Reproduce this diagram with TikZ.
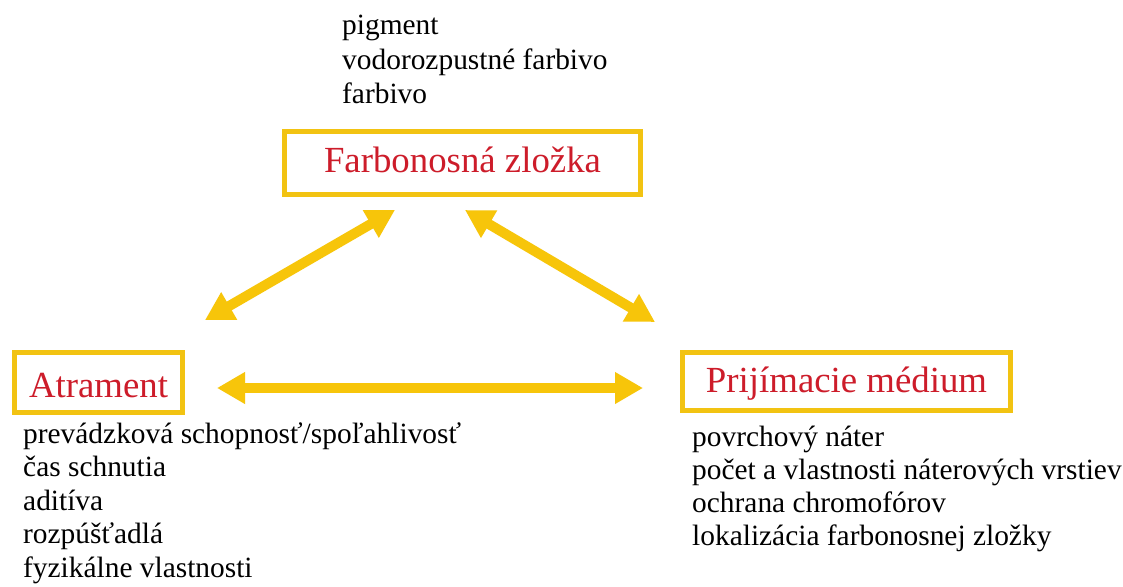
\documentclass[tikz,border=0pt]{standalone}
\usepackage{fontspec}
\IfFontExistsTF{LiberationSerif-Regular.ttf}
  {\setmainfont{LiberationSerif-Regular.ttf}[BoldFont=LiberationSerif-Bold.ttf]}
  {\IfFontExistsTF{Liberation Serif}{\setmainfont{Liberation Serif}}{}}
\usetikzlibrary{arrows.meta}
\definecolor{boxgold}{RGB}{242,195,18}
\definecolor{arrowgold}{RGB}{247,197,10}
\definecolor{titlered}{RGB}{205,28,42}
\begin{document}
\begin{tikzpicture}[x=1pt,y=-1pt,
  titlebox/.style={draw=boxgold, line width=5pt, fill=white, inner sep=0pt,
    text=titlered, font=\rmfamily\fontsize{36.8}{40}\selectfont, text depth=0pt},
  listline/.style={anchor=base west, inner sep=0pt, text=black,
    font=\rmfamily\fontsize{29.4}{34}\selectfont},
  biarrow/.style={draw=arrowgold, line width=10pt,
    {Triangle[length=28pt,width=30pt]}-{Triangle[length=28pt,width=30pt]}}
]
\useasboundingbox (0,0) rectangle (1123,586);
\fill[white] (0,0) rectangle (1123,586);

% title boxes
\node[titlebox, minimum width=356pt, minimum height=63pt, text height=18pt] (far) at (462.5,163) {Farbonosná zložka};
\node[titlebox, minimum width=168pt, minimum height=60pt, text height=30pt] (atr) at (98.5,382.5) {Atrament};
\node[titlebox, minimum width=328pt, minimum height=58pt, text height=21pt] (pri) at (846.5,381.5) {Prijímacie médium};

% top list
\node[listline] (p1) at (342,35) {pigment};
\node[listline] (p2) at (342,69) {vodorozpustné farbivo};
\node[listline] (p3) at (342,103) {farbivo};

% left list
\node[listline] (a1) at (23,443) {prevádzková schopnosť/spoľahlivosť};
\node[listline] (a2) at (23,476.5) {čas schnutia};
\node[listline] (a3) at (23,510) {aditíva};
\node[listline] (a4) at (23,543.5) {rozpúšťadlá};
\node[listline] (a5) at (23,577) {fyzikálne vlastnosti};

% right list
\node[listline] (m1) at (692,446) {povrchový náter};
\node[listline] (m2) at (692,479) {počet a vlastnosti náterových vrstiev};
\node[listline] (m3) at (692,512) {ochrana chromofórov};
\node[listline] (m4) at (692,545) {lokalizácia farbonosnej zložky};

% arrow end points
\coordinate (farL) at ([shift={(-67.5,13)}]far.south);
\coordinate (farR) at ([shift={(2.5,13)}]far.south);
\coordinate (atrT) at ([shift={(20,-30)}]atr.north east);
\coordinate (priT) at ([shift={(-25,-28)}]pri.north west);
\coordinate (atrE) at ([shift={(32,5.5)}]atr.east);
\coordinate (priW) at ([shift={(-37,6.5)}]pri.west);

% arrows
\draw[biarrow] (atrT) -- (farL);
\draw[biarrow] (farR) -- (priT);
\draw[biarrow] (atrE) -- (priW);
\end{tikzpicture}
\end{document}
